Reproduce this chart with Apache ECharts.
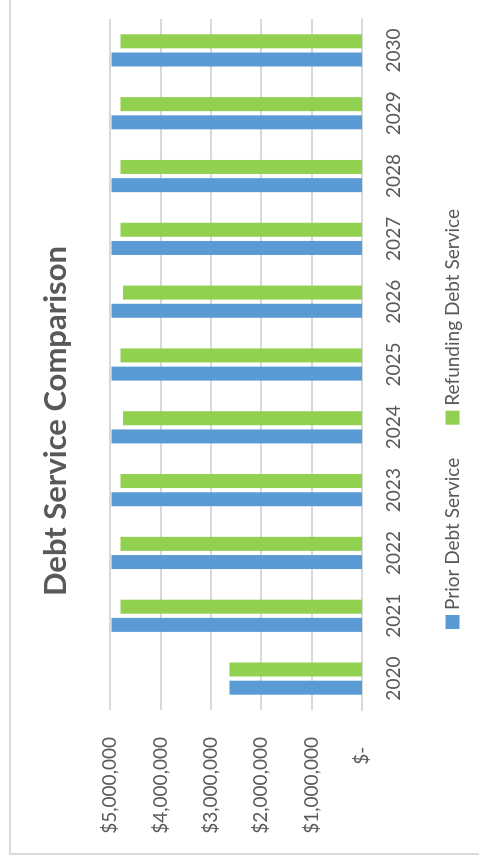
<!DOCTYPE html>
<html>
<head>
<meta charset="utf-8">
<script src="https://cdn.jsdelivr.net/npm/echarts@6/dist/echarts.min.js"></script>
<style>
  html, body { margin: 0; padding: 0; background: #fff; overflow: hidden; }
  /* chart is drawn landscape, then turned a quarter turn to match the picture */
  #chart {
    position: absolute; left: 0; top: 0;
    width: 867px; height: 479px;
    transform-origin: 0 0;
    transform: translateY(867px) rotate(-90deg);
  }
</style>
</head>
<body>
<div id="chart"></div>
<script>
const years = ['2020', '2021', '2022', '2023', '2024', '2025', '2026', '2027', '2028', '2029', '2030']
const priorDebtService = [2630000, 4970000, 4970000, 4970000, 4970000, 4970000, 4970000, 4970000, 4970000, 4970000, 4970000]
const refundingDebtService = [2630000, 4790000, 4790000, 4790000, 4740000, 4790000, 4740000, 4790000, 4790000, 4790000, 4790000]
const seriesNames = ['Prior Debt Service', 'Refunding Debt Service']

const font = 'Lato, "Open Sans", sans-serif'
const textColor = '#595959'

function money(v) {
  if (v === 0) return '$-  '
  return '$' + v.toLocaleString('en-US')
}

const chart = echarts.init(document.getElementById('chart'))
chart.setOption({
  animation: false,
  color: ['#5B9BD5', '#92D050'],
  title: {
    text: 'Debt Service Comparison',
    left: 441,
    textAlign: 'center',
    top: 35,
    textStyle: {
      fontFamily: font,
      fontSize: 31,
      fontWeight: 'bold',
      color: textColor
    }
  },
  legend: {
    data: seriesNames,
    left: 233,
    top: 438,
    icon: 'rect',
    itemWidth: 14,
    itemHeight: 14,
    itemGap: 33,
    textStyle: {
      fontFamily: font,
      fontSize: 19,
      color: textColor
    }
  },
  grid: {
    left: 157,
    right: 19,
    top: 110,
    bottom: 117
  },
  xAxis: {
    type: 'category',
    data: years,
    axisLine: {
      lineStyle: {
        color: '#D9D9D9',
        width: 2
      }
    },
    axisTick: {
      show: false
    },
    axisLabel: {
      margin: 22,
      fontFamily: font,
      fontSize: 19,
      color: textColor
    }
  },
  yAxis: {
    type: 'value',
    min: 0,
    max: 5000000,
    interval: 1000000,
    axisLine: {
      show: false
    },
    axisTick: {
      show: false
    },
    axisLabel: {
      margin: 27,
      fontFamily: font,
      fontSize: 19,
      color: textColor,
      formatter: money
    },
    splitLine: {
      lineStyle: {
        color: '#D9D9D9',
        width: 2
      }
    }
  },
  series: [{
    name: seriesNames[0],
    type: 'bar',
    data: priorDebtService,
    barWidth: 14,
    barGap: '30%'
  }, {
    name: seriesNames[1],
    type: 'bar',
    data: refundingDebtService,
    barWidth: 14,
    barGap: '30%'
  }],
  graphic: [{
    type: 'rect',
    silent: true,
    shape: { x: 13, y: 10, width: 1000, height: 600 },
    style: { fill: 'none', stroke: '#D9D9D9', lineWidth: 2 }
  }]
})
</script>
</body>
</html>
